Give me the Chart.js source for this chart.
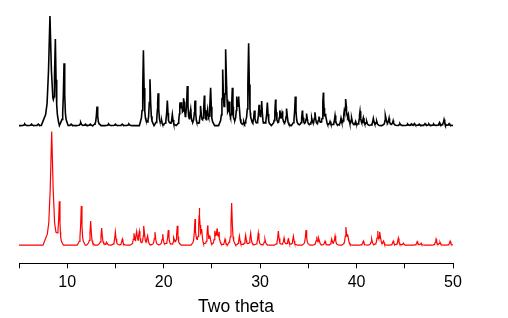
<!DOCTYPE html>
<html>
<head>
<meta charset="utf-8">
<script src="https://cdn.jsdelivr.net/npm/chart.js@4"></script>
<style>
  html, body { margin: 0; padding: 0; background: #fff; }
  #wrap { width: 508px; height: 318px; }
</style>
</head>
<body>
<div id="wrap"><canvas id="xrd"></canvas></div>
<script>
// DATA (peak positions in 2theta, heights in relative counts)

var blackPos = [5.6, 6.3, 7.0, 8.21, 8.77, 9.67, 10.4, 11.4, 11.9, 12.4, 13.09, 14.3, 15.0, 15.7, 16.4,
    17.9, 18.58, 19.42, 19.8, 20.38, 20.9, 21.7, 21.87, 22.1, 22.45, 22.8, 23.25, 23.84, 24.22, 24.56, 24.87,
    26.12, 26.46, 26.78, 27.12, 27.6, 27.8, 28.3, 28.81, 29.4, 29.89, 30.16, 30.75, 31.6, 32.06, 32.3, 32.76,
    33.65, 34.38, 34.83, 35.35, 35.69, 36.1, 36.56, 36.8, 37.25, 37.77, 38.39, 38.73, 38.9, 39.15, 39.5, 39.9,
    40.36, 40.7, 41.05, 41.74, 42.09, 43.02, 43.37, 43.8, 44.5, 45.3, 45.7, 46.0, 46.5, 47.1, 47.5, 48.0,
    48.6, 49.07, 49.6];
var blackHeight = [1.5, 1.5, 1.5, 109, 78, 62, 1.5, 3, 1.5, 1.5, 19, 1.5, 1.5, 1.5, 1.5,
    75, 46, 32, 4, 25, 11, 20, 18, 24, 38, 15, 25, 19, 29, 13, 37,
    53, 73, 19, 37, 26, 26, 4, 82, 15, 19, 23, 23, 26, 14, 13, 17,
    29, 15, 12, 7, 13, 9, 32, 9, 4, 10, 7, 11, 24, 9, 7, 4,
    14, 7, 4, 7, 4, 10, 7, 5, 2, 1.5, 1.5, 2, 1.5, 2, 1.5, 1.5,
    3, 6, 2];

var redPos = [8.39, 9.18, 11.46, 12.43, 13.57, 14.09, 14.99, 15.71, 16.92, 17.2, 17.48, 17.96, 18.34,
    19.1, 19.9, 20.48, 21.07, 21.41, 23.25, 23.7, 23.94, 24.56, 24.8, 25.32, 25.53, 25.74, 26.36, 27.05,
    27.85, 28.5, 29.02, 29.81, 30.5, 31.89, 32.48, 32.93, 33.45, 34.76, 35.87, 36.1, 36.73, 37.42, 37.77,
    38.9, 39.1, 40.7, 41.57, 42.19, 42.43, 42.8, 43.8, 44.33, 44.85, 46.3, 46.7, 48.24, 48.65, 49.7];
var redHeight = [113, 41, 39, 24, 17, 3, 13, 6, 11, 12, 13, 19, 9,
    13, 11, 15, 7, 19, 26, 36, 13, 19, 8, 13, 14, 12, 6, 42,
    9, 10, 12, 12, 6, 14, 7, 7, 9, 15, 8, 6, 4, 6, 9,
    17, 9, 4, 6, 13, 12, 4, 4, 7, 2, 4, 2, 6, 3, 4];

var xTicks = [10, 20, 30, 40, 50];

// PEAK SHAPE (piecewise, in units of peak width)

var SHAPE_K = [-3, -1.5, -1, -0.5, 0, 0.5, 1, 1.5, 3];
var SHAPE_F = [0, 0.1, 0.2, 0.5, 1, 0.5, 0.2, 0.1, 0];
var NARROW = 0.14, BROAD = 0.3;

function shapeAt(d) {
    if (d <= SHAPE_K[0] || d >= SHAPE_K[SHAPE_K.length - 1]) return 0;
    for (var i = 0; i < SHAPE_K.length - 1; i++) {
        if (d >= SHAPE_K[i] && d <= SHAPE_K[i + 1]) {
            var t = (d - SHAPE_K[i]) / (SHAPE_K[i + 1] - SHAPE_K[i]);
            return SHAPE_F[i] + t * (SHAPE_F[i + 1] - SHAPE_F[i]);
        }
    }
    return 0;
}

function trace(pos, hts, offset) {
    var big = Math.max.apply(null, hts);
    var widths = hts.map(function(h){ return h === big ? BROAD : NARROW; });
    var xs = [5, 50];
    pos.forEach(function(p, i){
        SHAPE_K.forEach(function(k){ xs.push(p + k * widths[i]); });
    });
    xs = xs.filter(function(x){ return x >= 5 && x <= 50; }).sort(function(a, b){ return a - b; });
    return xs.map(function(x){
        var y = 0;
        pos.forEach(function(p, i){ y += hts[i] * shapeAt((x - p) / widths[i]); });
        return {x: x, y: offset + y};
    });
}

document.addEventListener('DOMContentLoaded', function(){

var ctx = document.getElementById('xrd').getContext('2d');

var chart = new Chart(ctx, {
    type: 'line',
    data: {
        datasets: [{
            data: trace(blackPos, blackHeight, 137),
            borderColor: 'rgb(0, 0, 0)',
            borderWidth: 1.6,
        }, {
            data: trace(redPos, redHeight, 18),
            borderColor: 'rgb(255, 0, 0)',
            borderWidth: 1.2,
        }]
    },
    options: {
        responsive: true,
        maintainAspectRatio: false,
        animation: false,
        parsing: false,
        elements: { point: { radius: 0 }, line: { tension: 0 } },
        layout: { padding: { left: 19, right: 55, top: 10, bottom: 0 } },
        plugins: { legend: { display: false }, tooltip: { enabled: false } },
        scales: {
            x: {
                type: 'linear',
                min: 5,
                max: 50,
                border: { color: '#000', width: 1 },
                grid: { drawOnChartArea: false, drawTicks: true, tickLength: 5, tickColor: '#000' },
                ticks: {
                    stepSize: 5,
                    color: '#000',
                    padding: 5,
                    maxRotation: 0,
                    autoSkip: false,
                    font: { family: 'Liberation Sans, Arial, sans-serif', size: 16 },
                    callback: function(v){ return xTicks.indexOf(v) >= 0 ? String(v) : ''; }
                },
                title: {
                    display: true,
                    text: 'Two theta',
                    color: '#000',
                    padding: { top: 1, bottom: 2 },
                    font: { family: 'Liberation Sans, Arial, sans-serif', size: 17.5, lineHeight: 1.0 }
                }
            },
            y: { display: false, min: 0, max: 252 }
        }
    }
});

});
</script>
</body>
</html>
